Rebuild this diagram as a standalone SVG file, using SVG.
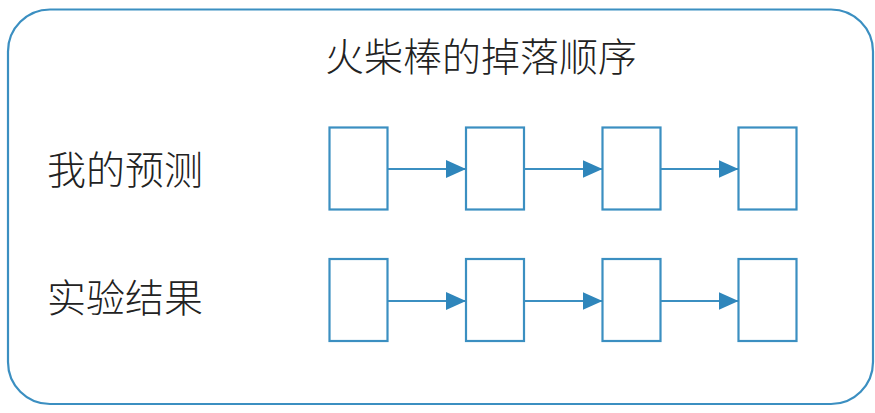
<svg xmlns="http://www.w3.org/2000/svg" width="875" height="413" viewBox="0 0 875 413">
<defs>
<style>
.frame{fill:none;stroke:#3b8fc1;stroke-width:2.2}
.box{fill:#ffffff;stroke:#3b8fc1;stroke-width:2.2}
.conn{stroke:#3b8fc1;stroke-width:2.2;fill:none}
.t{font-family:"Noto Sans CJK SC","Noto Sans CJK JP",sans-serif;font-size:39px;fill:#222;font-weight:300}
</style>
<marker id="ah" viewBox="0 0 20 18" refX="20" refY="9" markerWidth="20" markerHeight="18" markerUnits="userSpaceOnUse" orient="auto">
<path d="M0,0 L20,9 L0,18 Z" fill="#2f86bb"/>
</marker>
</defs>
<rect id="frame" class="frame" x="8" y="9.5" width="865" height="394.5" rx="42" ry="42"/>
<g id="title"><text class="t" x="325" y="70.5">火柴棒的掉落顺序</text></g>
<g id="label-predict"><text class="t" x="47" y="183.5">我的预测</text></g>
<g id="label-result"><text class="t" x="47" y="311.5">实验结果</text></g>
<g id="p1"><rect class="box" x="329.5" y="127.5" width="58" height="82"/></g>
<g id="p2"><rect class="box" x="466" y="127.5" width="58" height="82"/></g>
<g id="p3"><rect class="box" x="602.5" y="127.5" width="58" height="82"/></g>
<g id="p4"><rect class="box" x="738.5" y="127.5" width="58" height="82"/></g>
<g id="r1"><rect class="box" x="329.5" y="259" width="58" height="82"/></g>
<g id="r2"><rect class="box" x="466" y="259" width="58" height="82"/></g>
<g id="r3"><rect class="box" x="602.5" y="259" width="58" height="82"/></g>
<g id="r4"><rect class="box" x="738.5" y="259" width="58" height="82"/></g>
<g id="connectors">
<line class="conn" x1="387.5" y1="169" x2="466" y2="169" marker-end="url(#ah)"/>
<line class="conn" x1="524" y1="169" x2="602.5" y2="169" marker-end="url(#ah)"/>
<line class="conn" x1="660.5" y1="169" x2="738.5" y2="169" marker-end="url(#ah)"/>
<line class="conn" x1="387.5" y1="301" x2="466" y2="301" marker-end="url(#ah)"/>
<line class="conn" x1="524" y1="301" x2="602.5" y2="301" marker-end="url(#ah)"/>
<line class="conn" x1="660.5" y1="301" x2="738.5" y2="301" marker-end="url(#ah)"/>
</g>
</svg>
